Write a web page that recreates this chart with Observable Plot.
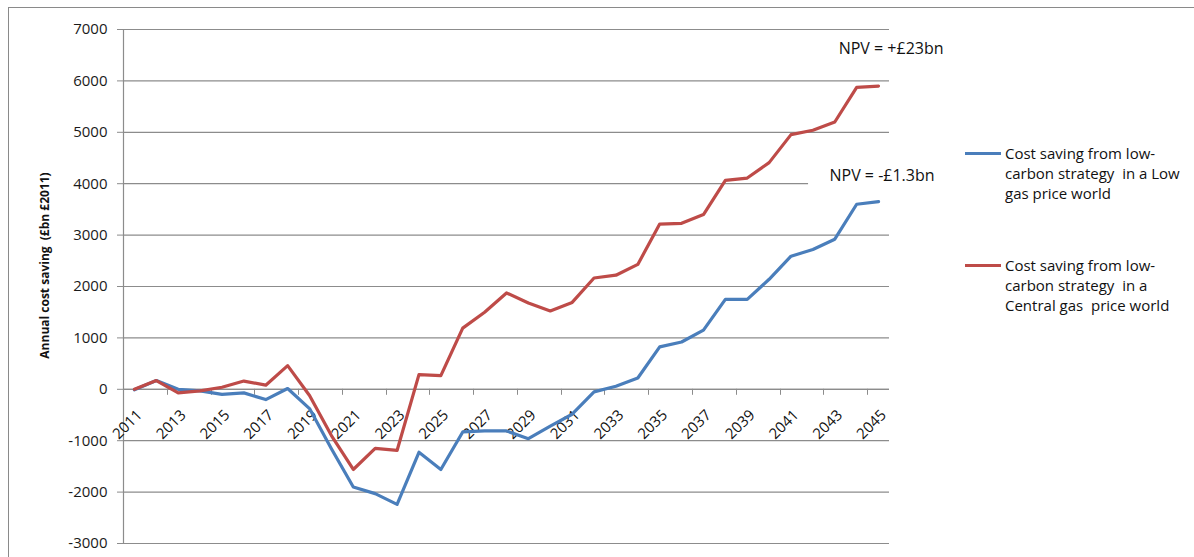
<!DOCTYPE html>
<html><head><meta charset="utf-8">
<script src="https://cdn.jsdelivr.net/npm/d3@7"></script>
<script src="https://cdn.jsdelivr.net/npm/@observablehq/plot@0.6"></script>
<style>
body{margin:0;background:#fff;font-family:"Open Sans",sans-serif;}
#wrap{position:relative;width:1194px;height:557px;overflow:hidden;background:#fff;}
#frame{position:absolute;left:8px;top:7px;width:1300px;height:700px;border-left:1px solid #8a8a8a;border-top:1px solid #8a8a8a;}
#chart{position:absolute;left:0;top:0;}
#legend{position:absolute;left:965px;top:0;font-size:15px;color:#111;}
.swatch{position:absolute;left:0;width:36px;height:3px;}
.txt{position:absolute;left:40px;line-height:20px;white-space:pre;}
</style></head>
<body>
<div id="wrap"><div id="frame"></div><div id="chart"></div><div id="legend"></div></div>
<script>
const years = ["2011","2012","2013","2014","2015","2016","2017","2018","2019","2020",
  "2021","2022","2023","2024","2025","2026","2027","2028","2029","2030",
  "2031","2032","2033","2034","2035","2036","2037","2038","2039","2040",
  "2041","2042","2043","2044","2045"];
const labelYears = ["2011","2013","2015","2017","2019","2021","2023","2025","2027","2029",
  "2031","2033","2035","2037","2039","2041","2043","2045"];
const seriesNames = [
  "Cost saving from low-carbon strategy in a Low gas price world",
  "Cost saving from low-carbon strategy in a Central gas price world"];
const legendLines = [
  ["Cost saving from low-", "carbon strategy  in a Low", "gas price world"],
  ["Cost saving from low-", "carbon strategy  in a", "Central gas  price world"]];
const lowGas = [-10,170,0,-30,-100,-70,-200,15,-375,-1155,
  -1900,-2030,-2240,-1225,-1560,-830,-810,-810,-960,-715,
  -485,-50,60,220,825,920,1150,1750,1750,2140,
  2590,2720,2920,3600,3650];
const centralGas = [0,170,-70,-30,40,160,80,460,-120,-900,
  -1560,-1150,-1190,285,265,1190,1500,1875,1680,1525,
  1690,2165,2220,2430,3215,3230,3400,4065,4110,4410,
  4955,5040,5200,5875,5900];
const yTicks = [-3000,-2000,-1000,0,1000,2000,3000,4000,5000,6000,7000];
const npvLabels = ["NPV = +£23bn", "NPV = -£1.3bn"];
const npvValues = [6630, 4160];
const yTitle = "Annual cost saving  (£bn £2011)";

const colors = ["#4a7ebb", "#be4b48"];
const grid = "#8c8c8c";
const W = 1194, H = 557, mL = 123, mR = 305, mT = 29, mB = 14;
const step = (W - mL - mR) / years.length;

const rows = [];
years.forEach((yr, i) => {
  rows.push({year: yr, value: lowGas[i], series: seriesNames[0]});
  rows.push({year: yr, value: centralGas[i], series: seriesNames[1]});
});

function xTicks(index, scales) {
  const g = d3.create("svg:g").attr("stroke", grid);
  const y0 = scales.y(0);
  for (const yr of labelYears) {
    const x = Math.round(scales.x(yr) - step / 2) + 0.5;
    g.append("line").attr("x1", x).attr("x2", x).attr("y1", y0).attr("y2", y0 + 6);
  }
  return g.node();
}
function npvBox(index, scales) {
  const y4 = scales.y(4000);
  const xe = scales.x("2045");
  return d3.create("svg:rect")
    .attr("x", xe - 70).attr("y", y4 - 20).attr("width", 120).attr("height", 28)
    .attr("fill", "#fff").node();
}

const chart = Plot.plot({
  width: W, height: H,
  marginLeft: mL, marginRight: mR, marginTop: mT, marginBottom: mB,
  style: {fontFamily: "'Open Sans', sans-serif", fontSize: "15px", color: "#1a1a1a", background: "transparent"},
  x: {type: "point", domain: years, padding: 0.5, axis: null},
  y: {domain: [-3000, 7000], axis: null},
  color: {domain: seriesNames, range: colors},
  marks: [
    Plot.gridY(yTicks, {stroke: grid, strokeOpacity: 1, strokeWidth: 1.2}),
    npvBox,
    Plot.axisY(yTicks, {tickSize: 6, tickPadding: 10, stroke: grid, strokeOpacity: 1, label: null, fontSize: 15, tickFormat: d => String(d)}),
    Plot.ruleX([years[0]], {dx: -step / 2, stroke: grid, strokeWidth: 1.2}),
    Plot.ruleY([0], {stroke: grid, strokeWidth: 1.2}),
    xTicks,
    Plot.text(labelYears, {x: d => d, y: d => 0, text: d => d, rotate: -45, textAnchor: "end", lineAnchor: "top", dx: 1, dy: 19, fontSize: 15, fill: "#111"}),
    Plot.line(rows, {x: "year", y: "value", stroke: "series", strokeWidth: 3.2, strokeLinejoin: "round", strokeLinecap: "round"}),
    Plot.text([npvLabels[0]], {x: d => "2045", y: d => npvValues[0], text: d => d, textAnchor: "end", lineAnchor: "middle", dx: 65, fontSize: 16, fill: "#111"}),
    Plot.text([npvLabels[1]], {x: d => "2045", y: d => npvValues[1], text: d => d, textAnchor: "end", lineAnchor: "middle", dx: 56, fontSize: 16, fill: "#111"}),
    Plot.text([yTitle], {frameAnchor: "left", textAnchor: "middle", rotate: -90, dx: -78, dy: -21, text: d => d, fontWeight: "bold", fontSize: 12, fill: "#111"})
  ]
});
document.getElementById("chart").appendChild(chart);

const legend = document.getElementById("legend");
const itemTops = [143, 255];
seriesNames.forEach((s, i) => {
  const sw = document.createElement("div");
  sw.className = "swatch";
  sw.style.top = (itemTops[i] + 8.5) + "px";
  sw.style.background = colors[i];
  legend.appendChild(sw);
  const t = document.createElement("div");
  t.className = "txt";
  t.style.top = itemTops[i] + "px";
  t.textContent = legendLines[i].join("\n");
  legend.appendChild(t);
});
</script>
</body></html>
